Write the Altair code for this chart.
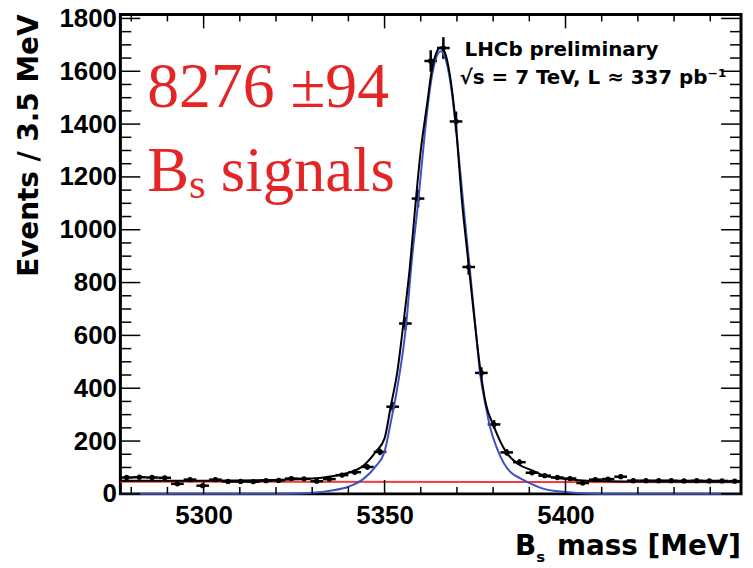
import altair as alt
import pandas as pd
import numpy as np

# ---------------- data ----------------
bin_start = 5277.0
bin_width = 3.5
counts = [62, 63, 62, 61, 38, 54, 31, 54, 47, 47,
          46, 50, 51, 58, 57, 48, 56, 71, 82, 102,
          159, 330, 645, 1118, 1639, 1688, 1410, 859, 458, 263,
          157, 120, 80, 69, 62, 58, 41, 54, 56, 65,
          50, 50, 50, 50, 49, 50, 49, 49, 48]

# total fit (black)
total_mass = [5277, 5290, 5300, 5310, 5320, 5326, 5330, 5335, 5340, 5344,
              5347.6, 5350, 5351.7, 5353.5, 5355.2, 5357, 5358.6, 5360, 5361.8, 5363,
              5364.3, 5365.5, 5366.7, 5368, 5369.6, 5371.4, 5373.3, 5375, 5376.6, 5378,
              5380, 5383.5, 5387, 5391, 5394, 5400, 5406, 5420, 5448.5]
total_val = [50, 50, 50, 51, 53, 55, 58, 66, 80, 105,
             160, 210, 331, 460, 645, 860, 1106, 1300, 1480, 1600,
             1670, 1690, 1670, 1590, 1410, 1106, 859, 640, 456, 340,
             262, 160, 112, 88, 70, 56, 50, 47, 46]

# signal component (blue)
sig_mass = [5277, 5320, 5326, 5330, 5335, 5340, 5344, 5347.6, 5350, 5351.7,
            5353.5, 5356, 5357.5, 5359.3, 5361, 5362.5, 5364, 5365.5, 5367, 5368.5,
            5370, 5371.7, 5373.5, 5375, 5376.4, 5378, 5379.2, 5381, 5383, 5385,
            5387.4, 5390.7, 5394, 5400, 5406, 5412, 5448.5]
sig_val = [0, 0, 1, 4, 12, 27, 55, 105, 160, 270,
           400, 645, 880, 1106, 1350, 1530, 1640, 1676, 1640, 1530,
           1350, 1106, 859, 650, 456, 330, 250, 175, 115, 80,
           60, 37, 19, 7, 1, 0, 0]

# background component (red)
bkg_mass = [5277, 5448.5]
bkg_val = [46, 44]

y_labels = [0, 200, 400, 600, 800, 1000, 1200, 1400, 1600, 1800]
x_labels = [5300, 5350, 5400]

# ---------------- tables ----------------
n = len(counts)
centers = [bin_start + bin_width * (i + 0.5) for i in range(n)]
df = pd.DataFrame({"m": centers, "n": counts})
df["lo"] = df["n"] - np.sqrt(df["n"])
df["hi"] = df["n"] + np.sqrt(df["n"])
df["mlo"] = df["m"] - bin_width / 2
df["mhi"] = df["m"] + bin_width / 2

tot = pd.DataFrame({"m": total_mass, "v": total_val})
sig = pd.DataFrame({"m": sig_mass, "v": sig_val})
bkg = pd.DataFrame({"m": bkg_mass, "v": bkg_val})

W, H = 624, 482
xs = alt.Scale(domain=[5277, 5448.5], nice=False, zero=False)
ys = alt.Scale(domain=[0, 1815], nice=False, zero=False)

xax = alt.Axis(values=x_labels, title=None, labelPadding=9, format="d",
               grid=False, domain=False, ticks=False)
yax = alt.Axis(values=y_labels, title=None, labelPadding=4, format="d",
               grid=False, domain=False, ticks=False)

X = lambda f: alt.X(f, type="quantitative", scale=xs, axis=xax)
Y = lambda f: alt.Y(f, type="quantitative", scale=ys, axis=yax)

bkg_line = alt.Chart(bkg).mark_line(color="#f23c3c", strokeWidth=2).encode(
    x=X("m"), y=Y("v"))
sig_line = alt.Chart(sig).mark_line(color="#3f51c4", strokeWidth=2, interpolate="monotone").encode(
    x=X("m"), y=Y("v"))
tot_line = alt.Chart(tot).mark_line(color="black", strokeWidth=2, interpolate="monotone").encode(
    x=X("m"), y=Y("v"))

ver = alt.Chart(df).mark_rule(color="black", strokeWidth=2.5).encode(
    x=X("m"), y=Y("lo"), y2="hi")
hor = alt.Chart(df).mark_rule(color="black", strokeWidth=2.5).encode(
    x=X("mlo"), x2="mhi", y=Y("n"))
pts = alt.Chart(df).mark_point(filled=True, shape="circle", size=28, color="black", opacity=1).encode(
    x=X("m"), y=Y("n"))

# inward ticks on all four sides
x_major = pd.DataFrame({"t": [5300, 5350, 5400]})
x_minor = pd.DataFrame({"t": [v for v in range(5280, 5450, 10) if v % 50 != 0]})
y_major = pd.DataFrame({"t": list(range(0, 1801, 200))})
y_minor = pd.DataFrame({"t": [v for v in range(50, 1801, 50) if v % 200 != 0]})

def xticks(d, L):
    b = alt.Chart(d).mark_rule(color="black", strokeWidth=1.5).encode(
        x=X("t"), y=alt.value(H), y2=alt.value(H - L))
    t = alt.Chart(d).mark_rule(color="black", strokeWidth=1.5).encode(
        x=X("t"), y=alt.value(0), y2=alt.value(L))
    return [b, t]

def yticks(d, L):
    l = alt.Chart(d).mark_rule(color="black", strokeWidth=1.5).encode(
        y=Y("t"), x=alt.value(0), x2=alt.value(L))
    r = alt.Chart(d).mark_rule(color="black", strokeWidth=1.5).encode(
        y=Y("t"), x=alt.value(W), x2=alt.value(W - L))
    return [l, r]

ticks = xticks(x_major, 14) + xticks(x_minor, 7) + yticks(y_major, 20) + yticks(y_minor, 11)

def txt(s, x, y, **kw):
    return alt.Chart(pd.DataFrame({"s": [s]})).mark_text(**kw).encode(
        x=alt.value(x), y=alt.value(y), text="s:N")

texts = [
    # y title
    txt("Events / 3.5 MeV", -91, 0, angle=270, align="right", baseline="middle",
        font="DejaVu Sans", fontWeight="bold", fontSize=28, color="black"),
    # x title
    txt("mass [MeV]", W, 543, align="right", baseline="alphabetic",
        font="DejaVu Sans", fontWeight="bold", fontSize=28, color="black"),
    txt("s", 418, 550, align="left", baseline="alphabetic",
        font="DejaVu Sans", fontWeight="bold", fontSize=15, color="black"),
    txt("B", 418, 543, align="right", baseline="alphabetic",
        font="DejaVu Sans", fontWeight="bold", fontSize=28, color="black"),
    # legend
    txt("LHCb preliminary", 346, 36, align="left", baseline="middle",
        font="DejaVu Sans", fontWeight="bold", fontSize=20, color="black"),
    txt("\u221as = 7 TeV, L \u2248 337 pb\u207b\u00b9", 341, 64, align="left", baseline="middle",
        font="DejaVu Sans", fontWeight="bold", fontSize=20, color="black"),
    # red annotation
    txt("8276 \u00b194", 27, 93, align="left", baseline="alphabetic",
        font="Liberation Serif", fontSize=64, color="#e42526"),
    txt("B", 27, 177, align="left", baseline="alphabetic",
        font="Liberation Serif", fontSize=63, color="#e42526"),
    txt("s", 69, 185, align="left", baseline="alphabetic",
        font="Liberation Serif", fontSize=43, color="#e42526"),
    txt("signals", 101, 177, align="left", baseline="alphabetic",
        font="Liberation Serif", fontSize=63, color="#e42526"),
]

chart = alt.layer(bkg_line, hor, ver, pts, sig_line, tot_line, *ticks, *texts).properties(
    width=W, height=H, autosize="none",
    padding={"left": 113, "top": 5, "right": 4, "bottom": 70},
).configure_view(stroke="black", strokeWidth=3).configure_axis(
    grid=False, domain=False, ticks=False,
    labelFont="Liberation Sans", labelFontWeight="bold", labelFontSize=26, labelColor="black",
)

chart.save("out.html", embed_options={"renderer": "svg", "actions": False})
